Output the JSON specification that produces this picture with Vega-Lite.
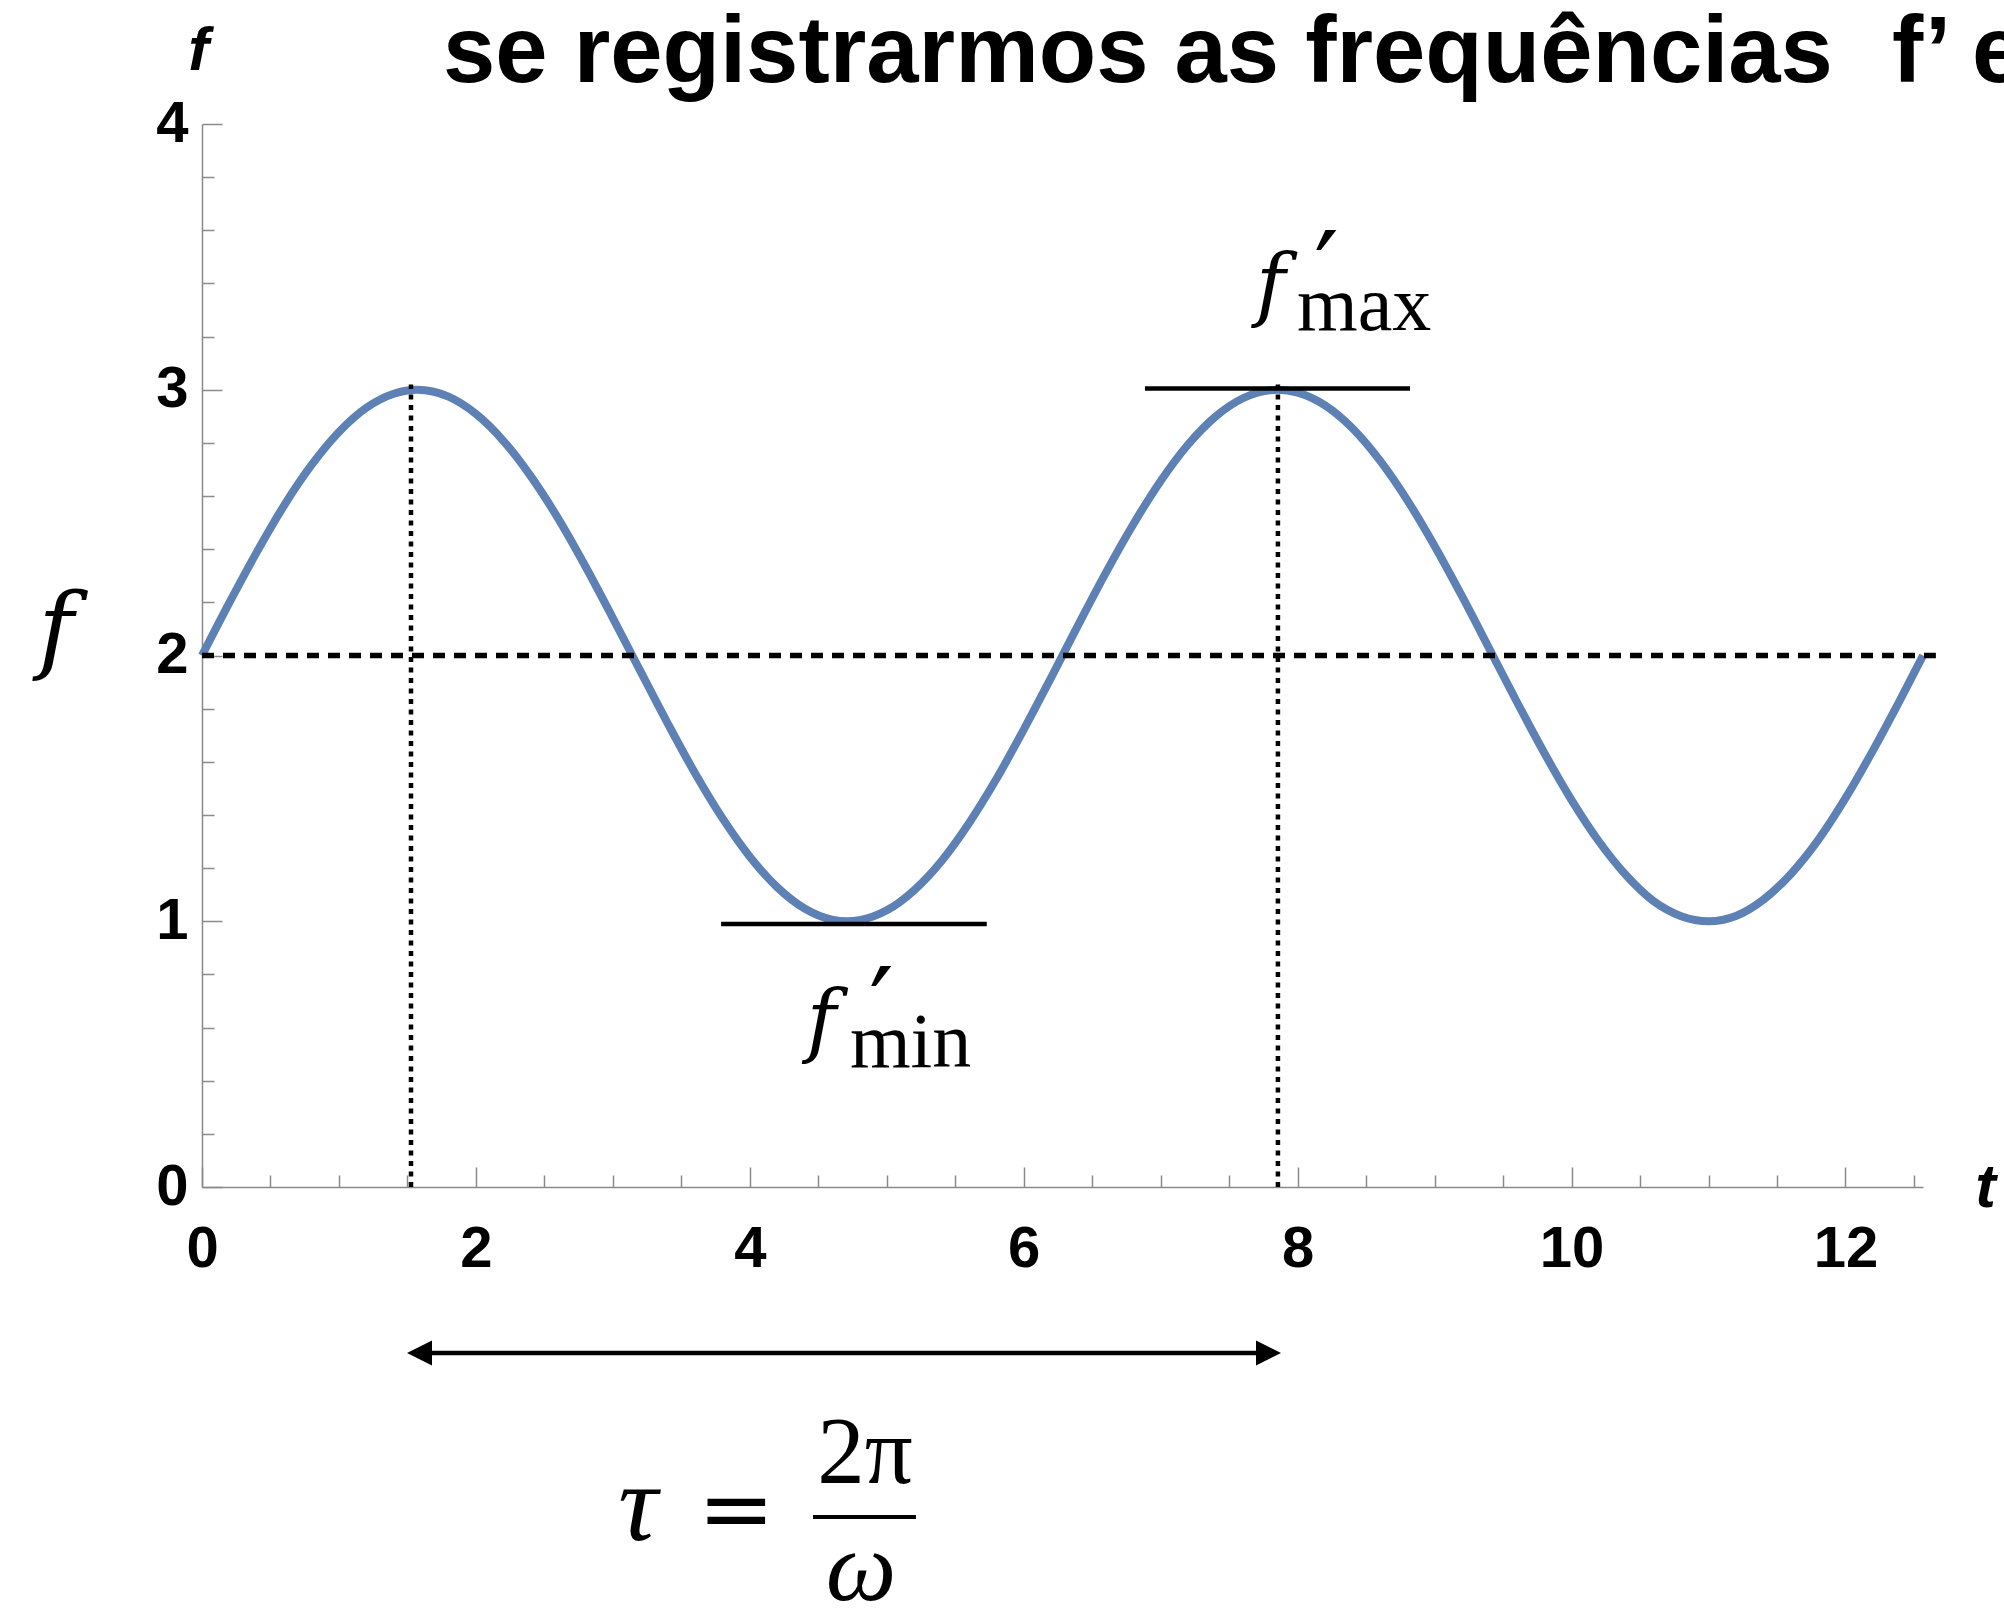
{
  "$schema": "https://vega.github.io/schema/vega-lite/v6.json",
  "autosize": {"type": "none"},
  "padding": {"left": 202, "top": 124, "right": 81, "bottom": 423},
  "width": 1721,
  "height": 1063,
  "background": "white",
  "config": {
    "view": {"stroke": null},
    "axis": {"grid": false}
  },
  "datasets": {
    "curve": [
      {"t": 0, "f": 2}, {"t": 0.2, "f": 2.199}, {"t": 0.4, "f": 2.389}, {"t": 0.6, "f": 2.565},
      {"t": 0.8, "f": 2.717}, {"t": 1.0, "f": 2.841}, {"t": 1.2, "f": 2.932}, {"t": 1.4, "f": 2.985},
      {"t": 1.571, "f": 3}, {"t": 1.8, "f": 2.974}, {"t": 2.0, "f": 2.909}, {"t": 2.2, "f": 2.808},
      {"t": 2.4, "f": 2.675}, {"t": 2.6, "f": 2.516}, {"t": 2.8, "f": 2.335}, {"t": 3.0, "f": 2.141},
      {"t": 3.2, "f": 1.942}, {"t": 3.4, "f": 1.745}, {"t": 3.6, "f": 1.557}, {"t": 3.8, "f": 1.388},
      {"t": 4.0, "f": 1.243}, {"t": 4.2, "f": 1.128}, {"t": 4.4, "f": 1.048}, {"t": 4.6, "f": 1.006},
      {"t": 4.712, "f": 1}, {"t": 4.8, "f": 1.004}, {"t": 5.0, "f": 1.041}, {"t": 5.2, "f": 1.117},
      {"t": 5.4, "f": 1.227}, {"t": 5.6, "f": 1.369}, {"t": 5.8, "f": 1.535}, {"t": 6.0, "f": 1.721},
      {"t": 6.2, "f": 1.917}, {"t": 6.4, "f": 2.117}, {"t": 6.6, "f": 2.312}, {"t": 6.8, "f": 2.494},
      {"t": 7.0, "f": 2.657}, {"t": 7.2, "f": 2.794}, {"t": 7.4, "f": 2.899}, {"t": 7.6, "f": 2.968},
      {"t": 7.854, "f": 3}, {"t": 8.0, "f": 2.989}, {"t": 8.2, "f": 2.941}, {"t": 8.4, "f": 2.855},
      {"t": 8.6, "f": 2.734}, {"t": 8.8, "f": 2.585}, {"t": 9.0, "f": 2.412}, {"t": 9.2, "f": 2.223},
      {"t": 9.4, "f": 2.025}, {"t": 9.6, "f": 1.826}, {"t": 9.8, "f": 1.634}, {"t": 10.0, "f": 1.456},
      {"t": 10.2, "f": 1.3}, {"t": 10.4, "f": 1.172}, {"t": 10.6, "f": 1.075}, {"t": 10.8, "f": 1.019},
      {"t": 11.0, "f": 1.0}, {"t": 11.2, "f": 1.02}, {"t": 11.4, "f": 1.081}, {"t": 11.6, "f": 1.177},
      {"t": 11.8, "f": 1.305}, {"t": 12.0, "f": 1.463}, {"t": 12.2, "f": 1.642}, {"t": 12.4, "f": 1.834},
      {"t": 12.566, "f": 2}
    ]
  },
  "encoding": {
    "x": {
      "field": "t",
      "type": "quantitative",
      "scale": {"domain": [0, 12.566], "nice": false, "zero": false},
      "axis": {
        "title": "t",
        "titleAngle": 0,
        "titleX": 1783,
        "titleY": 0,
        "titleAlign": "center",
        "titleBaseline": "middle",
        "titleFont": "Liberation Sans",
        "titleFontStyle": "italic",
        "titleFontWeight": "bold",
        "titleFontSize": 62,
        "titleColor": "black",
        "values": [0, 0.5, 1, 1.5, 2, 2.5, 3, 3.5, 4, 4.5, 5, 5.5, 6, 6.5, 7, 7.5, 8, 8.5, 9, 9.5, 10, 10.5, 11, 11.5, 12, 12.5],
        "labelExpr": "datum.value % 2 === 0 ? format(datum.value, 'd') : ''",
        "labelFlush": false,
        "labelOverlap": false,
        "labelFont": "Liberation Sans",
        "labelFontWeight": "bold",
        "labelFontSize": 58,
        "labelColor": "black",
        "labelPadding": 53,
        "domainColor": "#8a8a8a",
        "domainWidth": 1.5,
        "tickColor": "#8a8a8a",
        "tickWidth": 1.5,
        "tickSize": {"condition": {"test": "datum.value % 2 === 0", "value": -20}, "value": -12}
      }
    },
    "y": {
      "field": "f",
      "type": "quantitative",
      "scale": {"domain": [0, 4], "nice": false, "zero": false},
      "axis": {
        "title": "f",
        "titleAngle": 0,
        "titleX": -4,
        "titleY": -74,
        "titleAlign": "center",
        "titleBaseline": "middle",
        "titleFont": "Liberation Sans",
        "titleFontStyle": "italic",
        "titleFontWeight": "bold",
        "titleFontSize": 62,
        "titleColor": "black",
        "values": [0, 0.2, 0.4, 0.6, 0.8, 1, 1.2, 1.4, 1.6, 1.8, 2, 2.2, 2.4, 2.6, 2.8, 3, 3.2, 3.4, 3.6, 3.8, 4],
        "labelExpr": "datum.value % 1 === 0 ? format(datum.value, 'd') : ''",
        "labelFlush": false,
        "labelOverlap": false,
        "labelFont": "Liberation Sans",
        "labelFontWeight": "bold",
        "labelFontSize": 58,
        "labelColor": "black",
        "labelPadding": 34,
        "domainColor": "#8a8a8a",
        "domainWidth": 1.5,
        "tickColor": "#8a8a8a",
        "tickWidth": 1.5,
        "tickSize": {"condition": {"test": "datum.value % 1 === 0", "value": -20}, "value": -12}
      }
    }
  },
  "layer": [
    {
      "data": {"name": "curve"},
      "mark": {"type": "line", "color": "#5E81B5", "strokeWidth": 8, "interpolate": "monotone", "clip": false}
    },
    {
      "data": {"values": [{"t": 0, "t2": 12.66, "f": 2}]},
      "mark": {"type": "rule", "color": "black", "strokeWidth": 5.5, "strokeDash": [12, 9]},
      "encoding": {"x2": {"field": "t2"}}
    },
    {
      "data": {"values": [{"t": 1.526, "f": 0, "f2": 3.02}, {"t": 7.856, "f": 0, "f2": 3.02}]},
      "mark": {"type": "rule", "color": "black", "strokeWidth": 4.5, "strokeDash": [5, 5.5]},
      "encoding": {"y2": {"field": "f2"}}
    },
    {
      "data": {"values": [{"t": 3.79, "t2": 5.73, "f": 0.99}, {"t": 6.885, "t2": 8.82, "f": 3.005}]},
      "mark": {"type": "rule", "color": "black", "strokeWidth": 4.5},
      "encoding": {"x2": {"field": "t2"}}
    },
    {
      "data": {"values": [{"t": 1.6, "t2": 7.78, "f": -0.6246}]},
      "mark": {"type": "rule", "color": "black", "strokeWidth": 4.5},
      "encoding": {"x2": {"field": "t2"}}
    },
    {
      "data": {"values": [{"t": 1.588, "f": -0.6246}]},
      "mark": {"type": "point", "filled": true, "shape": "M-1,0L1,-1L1,1Z", "size": 625, "color": "black", "opacity": 1}
    },
    {
      "data": {"values": [{"t": 7.787, "f": -0.6246}]},
      "mark": {"type": "point", "filled": true, "shape": "M1,0L-1,-1L-1,1Z", "size": 625, "color": "black", "opacity": 1}
    },
    {
      "data": {"values": [
        {"t": 1.76, "f": 4.158, "label": "se registrarmos as frequências"},
        {"t": 12.34, "f": 4.158, "label": "f’ e"}
      ]},
      "mark": {"type": "text", "align": "left", "baseline": "alphabetic", "font": "Liberation Sans", "fontWeight": "bold", "fontSize": 94, "color": "black"},
      "encoding": {"text": {"field": "label"}}
    },
    {
      "data": {"values": [{"t": 7.696, "f": 3.296, "label": "f"}, {"t": 4.416, "f": 0.527, "label": "f"}]},
      "mark": {"type": "text", "align": "left", "baseline": "alphabetic", "font": "DejaVu Serif", "fontStyle": "italic", "fontSize": 80, "color": "black"},
      "encoding": {"text": {"field": "label"}}
    },
    {
      "data": {"values": [{"t": 8.12, "f": 3.296, "label": "′"}, {"t": 4.87, "f": 0.527, "label": "′"}]},
      "mark": {"type": "text", "align": "left", "baseline": "alphabetic", "font": "DejaVu Serif", "fontSize": 110, "color": "black"},
      "encoding": {"text": {"field": "label"}}
    },
    {
      "data": {"values": [{"t": 7.995, "f": 3.225, "label": "max"}, {"t": 4.731, "f": 0.4515, "label": "min"}]},
      "mark": {"type": "text", "align": "left", "baseline": "alphabetic", "font": "Liberation Serif", "fontSize": 78, "color": "black"},
      "encoding": {"text": {"field": "label"}}
    },
    {
      "data": {"values": [{"t": -1.066, "f": 1.98, "label": "f"}]},
      "mark": {"type": "text", "align": "center", "baseline": "alphabetic", "font": "DejaVu Serif", "fontStyle": "italic", "fontSize": 96, "color": "black"},
      "encoding": {"text": {"field": "label"}}
    },
    {
      "data": {"values": [{"t": 3.04, "f": -1.328, "label": "τ"}]},
      "mark": {"type": "text", "align": "left", "baseline": "alphabetic", "font": "Liberation Serif", "fontStyle": "italic", "fontSize": 110, "color": "black"},
      "encoding": {"text": {"field": "label"}}
    },
    {
      "data": {"values": [{"t": 4.812, "f": -1.554, "label": "ω"}]},
      "mark": {"type": "text", "align": "center", "baseline": "alphabetic", "font": "Liberation Serif", "fontStyle": "italic", "fontSize": 100, "color": "black"},
      "encoding": {"text": {"field": "label"}}
    },
    {
      "data": {"values": [{"t": 3.62, "f": -1.328, "label": "="}]},
      "mark": {"type": "text", "align": "left", "baseline": "alphabetic", "font": "DejaVu Serif", "fontSize": 92, "color": "black"},
      "encoding": {"text": {"field": "label"}}
    },
    {
      "data": {"values": [{"t": 4.841, "f": -1.114, "label": "2π"}]},
      "mark": {"type": "text", "align": "center", "baseline": "alphabetic", "font": "Liberation Serif", "fontSize": 95, "color": "black"},
      "encoding": {"text": {"field": "label"}}
    },
    {
      "data": {"values": [{"t": 4.461, "t2": 5.213, "f": -1.242}]},
      "mark": {"type": "rule", "color": "black", "strokeWidth": 4},
      "encoding": {"x2": {"field": "t2"}}
    }
  ]
}
